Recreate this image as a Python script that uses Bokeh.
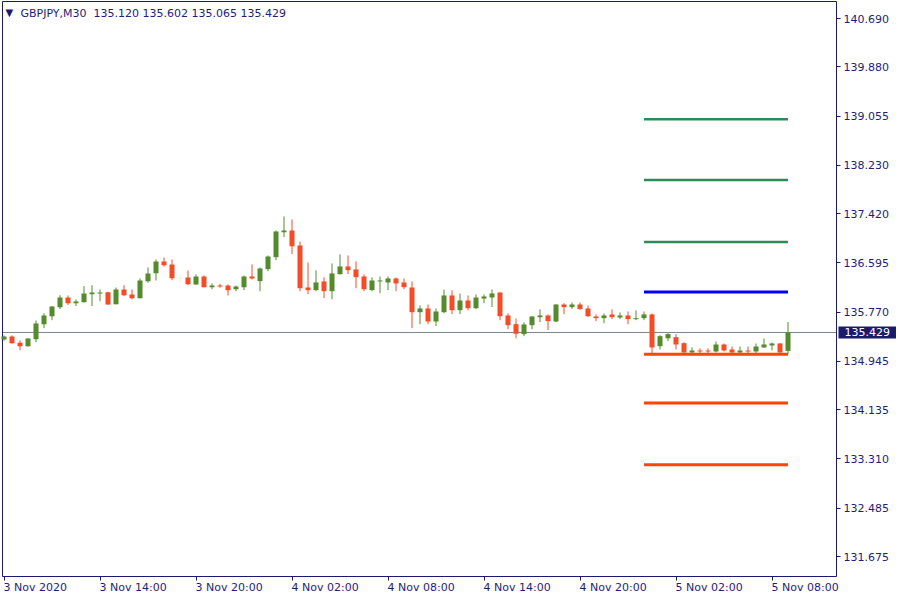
from bokeh.plotting import figure
from bokeh.models import (Range1d, FixedTicker, PrintfTickFormatter, Label, ColumnDataSource,
                          LinearAxis, BoxAnnotation)
from bokeh.embed import file_html
from bokeh.resources import INLINE

# ---------------- data (GBPJPY, M30, from 3 Nov 2020 08:00) ----------------
symbol = "GBPJPY,M30"

opens = [135.31, 135.36, 135.256, 135.199, 135.317, 135.568, 135.702, 135.853, 136.015, 135.920,
         135.937, 136.071, 136.080, 136.104, 135.903, 136.149, 136.066, 136.004, 136.289, 136.423,
         136.619, 136.568, 136.334, 136.351, 136.233, 136.367, 136.188, 136.216, 136.216, 136.154,
         136.188, 136.367, 136.289, 136.490, 136.691, 137.110, 137.138, 136.887, 136.183, 136.138,
         136.284, 136.121, 136.406, 136.535, 136.485, 136.367, 136.138, 136.284, 136.267, 136.334,
         136.267, 136.183, 135.769, 135.831, 135.613, 135.769, 136.049, 135.802, 135.965, 135.836,
         135.998, 136.015, 136.099, 135.714, 135.568, 135.401, 135.551, 135.685, 135.714, 135.613,
         135.898, 135.853, 135.898, 135.831, 135.697, 135.669, 135.731, 135.680, 135.714, 135.652,
         135.669, 135.731, 135.199, 135.332, 135.350, 135.250, 135.094, 135.127, 135.127, 135.110,
         135.228, 135.144, 135.094, 135.127, 135.110, 135.178, 135.211, 135.245, 135.120]
highs = [135.38, 135.38, 135.295, 135.33, 135.630, 135.752, 135.870, 136.054, 136.049, 135.982,
         136.205, 136.222, 136.149, 136.110, 136.183, 136.222, 136.149, 136.334, 136.518, 136.652,
         136.686, 136.652, 136.401, 136.468, 136.401, 136.384, 136.250, 136.245, 136.233, 136.216,
         136.384, 136.568, 136.518, 136.719, 137.138, 137.373, 137.322, 136.954, 136.602, 136.468,
         136.351, 136.585, 136.736, 136.719, 136.619, 136.401, 136.351, 136.367, 136.367, 136.351,
         136.334, 136.284, 135.881, 135.898, 135.831, 136.149, 136.133, 136.082, 136.049, 136.066,
         136.066, 136.149, 136.100, 135.747, 135.663, 135.597, 135.700, 135.815, 135.731, 135.900,
         135.920, 135.931, 135.931, 135.881, 135.731, 135.747, 135.815, 135.764, 135.781, 135.798,
         135.781, 135.747, 135.384, 135.418, 135.401, 135.266, 135.178, 135.161, 135.161, 135.278,
         135.245, 135.194, 135.194, 135.194, 135.245, 135.328, 135.261, 135.250, 135.602]
lows = [135.29, 135.24, 135.132, 135.19, 135.266, 135.501, 135.635, 135.823, 135.890, 135.873,
        135.930, 135.873, 135.953, 135.890, 135.900, 136.037, 135.982, 136.000, 136.262, 136.300,
        136.530, 136.305, 136.255, 136.222, 136.230, 136.185, 136.154, 136.178, 136.049, 136.121,
        136.138, 136.317, 136.121, 136.456, 136.640, 137.026, 136.741, 136.121, 136.071, 136.121,
        136.004, 135.987, 136.400, 136.406, 136.171, 136.121, 136.121, 136.088, 136.138, 136.121,
        136.154, 135.501, 135.568, 135.568, 135.538, 135.752, 135.736, 135.736, 135.802, 135.819,
        135.920, 135.856, 135.635, 135.484, 135.332, 135.367, 135.484, 135.601, 135.468, 135.601,
        135.736, 135.823, 135.806, 135.685, 135.619, 135.585, 135.652, 135.652, 135.568, 135.635,
        135.635, 135.077, 135.144, 135.283, 135.144, 135.077, 135.043, 135.077, 135.077, 135.094,
        135.110, 135.043, 135.077, 135.060, 135.077, 135.172, 135.127, 135.085, 135.065]
closes = [135.36, 135.25, 135.199, 135.328, 135.580, 135.714, 135.865, 136.015, 135.920, 135.948,
          136.082, 136.099, 136.100, 135.898, 136.149, 136.054, 136.004, 136.300, 136.418, 136.619,
          136.557, 136.339, 136.334, 136.239, 136.367, 136.188, 136.216, 136.200, 136.138, 136.200,
          136.367, 136.334, 136.501, 136.702, 137.121, 137.138, 136.875, 136.171, 136.138, 136.267,
          136.121, 136.418, 136.535, 136.473, 136.356, 136.154, 136.300, 136.300, 136.334, 136.250,
          136.188, 135.769, 135.831, 135.613, 135.781, 136.049, 135.802, 135.965, 135.836, 136.015,
          136.032, 136.082, 135.702, 135.551, 135.408, 135.563, 135.697, 135.714, 135.619, 135.898,
          135.853, 135.898, 135.823, 135.702, 135.669, 135.714, 135.685, 135.714, 135.652, 135.663,
          135.731, 135.178, 135.367, 135.401, 135.228, 135.094, 135.127, 135.110, 135.110, 135.228,
          135.127, 135.094, 135.127, 135.110, 135.194, 135.228, 135.245, 135.094, 135.429]

# time axis: bar index of each labelled time
tick_bars = [0, 12, 24, 36, 48, 60, 72, 84, 96]
tick_labels = ["3 Nov 2020", "3 Nov 14:00", "3 Nov 20:00", "4 Nov 02:00", "4 Nov 08:00",
               "4 Nov 14:00", "4 Nov 20:00", "5 Nov 02:00", "5 Nov 08:00"]

# price axis ticks
price_ticks = [131.675, 132.485, 133.310, 134.135, 134.945, 135.770,
               136.595, 137.420, 138.230, 139.055, 139.880, 140.690]

# horizontal levels (targets / entry / stops) drawn from bar 80 to bar 98
target_levels = [139.000, 137.982, 136.945]
entry_levels = [136.106]
stop_levels = [135.065, 134.249, 133.212]
level_from_bar = 80
level_to_bar = 98

# ---------------- styling / geometry ----------------
BULL = "#548b2c"
BEAR = "#f44c26"
DOJI = "#f6ebe6"
NAVY = "#191970"
TXT = "#1e1e78"
FONT = "DejaVu Sans"

W, H = 900, 600
PX_BAR = 8.0            # pixels per bar
PX_PRICE = 59.679       # pixels per price unit
BAR0_X = 3.5            # pixel centre of bar 0
REF_Y = 18.0            # pixel row of the top price tick
# chart box (pixels)
BOX_L, BOX_R, BOX_T, BOX_B = 2.0, 836.0, 1.0, 576.0

x_lo = -BAR0_X / PX_BAR
x_hi = (W - BAR0_X) / PX_BAR
y_hi = price_ticks[-1] + REF_Y / PX_PRICE
y_lo = y_hi - H / PX_PRICE

def px_to_bar(px):
    return x_lo + px / PX_BAR

def py_to_price(py):
    return y_hi - py / PX_PRICE

box_left, box_right = px_to_bar(BOX_L), px_to_bar(BOX_R)
box_top, box_bottom = py_to_price(BOX_T), py_to_price(BOX_B)

p = figure(width=W, height=H, output_backend="svg", toolbar_location=None, tools="",
           x_range=Range1d(x_lo, x_hi), y_range=Range1d(y_lo, y_hi),
           x_axis_location=None, y_axis_location=None, title=None,
           min_border_left=0, min_border_top=0, min_border_right=0, min_border_bottom=0)
p.background_fill_color = "white"
p.border_fill_color = "white"
p.outline_line_color = None
p.xgrid.visible = False
p.ygrid.visible = False

# right price axis, pinned to the chart box edge
ya = LinearAxis(fixed_location=box_right)
ya.ticker = FixedTicker(ticks=price_ticks)
ya.formatter = PrintfTickFormatter(format="%.3f")
ya.axis_line_color = None
ya.major_tick_line_color = NAVY
ya.major_tick_out = 4
ya.major_tick_in = 0
ya.minor_tick_line_color = None
ya.major_label_standoff = 3
ya.major_label_text_font = FONT
ya.major_label_text_font_size = "11px"
ya.major_label_text_color = TXT
p.add_layout(ya, "right")

# bottom time axis (tick marks), pinned to the chart box bottom
xa = LinearAxis(fixed_location=box_bottom)
xa.ticker = FixedTicker(ticks=tick_bars)
xa.axis_line_color = None
xa.major_tick_line_color = NAVY
xa.major_tick_out = 4
xa.major_tick_in = 0
xa.minor_tick_line_color = None
xa.major_label_text_color = None
xa.major_label_text_font_size = "11px"
p.add_layout(xa, "below")

# time labels, left aligned at their tick as in MT4
for b, t in zip(tick_bars, tick_labels):
    p.add_layout(Label(x=(b - x_lo) * PX_BAR - 0.5, y=H - 587, x_units="screen", y_units="screen",
                       text=t, text_align="left", text_baseline="middle",
                       text_font=FONT, text_font_size="11px", text_color=TXT))

# chart box border
p.add_layout(BoxAnnotation(left=box_left, right=box_right, top=box_top, bottom=box_bottom,
                           fill_color=None, line_color=NAVY, line_alpha=1.0, line_width=1,
                           level="underlay"))

# current price line (behind candles)
p.segment(x0=[box_left], x1=[box_right], y0=[closes[-1]], y1=[closes[-1]],
          line_color="#7a8593", line_width=1, level="underlay")

# candles
n = len(opens)
idx = list(range(n))
cols = [BULL if c > o else (BEAR if c < o else DOJI) for o, c in zip(opens, closes)]
min_h = 1.0 / PX_PRICE
bottoms = [min(o, c) for o, c in zip(opens, closes)]
tops = [max(max(o, c), min(o, c) + min_h) for o, c in zip(opens, closes)]
src = ColumnDataSource(dict(x=idx, o=opens, h=highs, l=lows, c=closes,
                            bot=bottoms, top=tops, col=cols))
p.segment(x0="x", x1="x", y0="l", y1="h", line_color="col", line_width=1, source=src)
p.vbar(x="x", width=0.63, bottom="bot", top="top", fill_color="col", line_color=None, source=src)

# level lines
lv = target_levels + entry_levels + stop_levels
lcols = ["#2e8b57"] * len(target_levels) + ["#0000ff"] * len(entry_levels) + ["#ff4500"] * len(stop_levels)
lw = [2.5] * len(target_levels) + [3] * len(entry_levels) + [3] * len(stop_levels)
p.segment(x0=[level_from_bar] * len(lv), x1=[level_to_bar] * len(lv), y0=lv, y1=lv,
          line_color=lcols, line_width=lw)

# current price tag on the price axis
p.add_layout(Label(x=838, y=(closes[-1] - y_lo) * PX_PRICE, x_units="screen", y_units="screen",
                   text="%.3f" % closes[-1], text_align="left", text_baseline="middle",
                   text_font=FONT, text_font_size="11px", text_color="white",
                   background_fill_color="#1b1b6b", padding=(6, 2)))

# header: symbol and OHLC of the last bar
p.add_layout(Label(x=5, y=H - 11.5, x_units="screen", y_units="screen", text="\u25bc",
                   text_align="left", text_baseline="middle",
                   text_font=FONT, text_font_size="10px", text_color=NAVY))
hdr = "%s\u00a0\u00a0%.3f %.3f %.3f %.3f" % (symbol, opens[-1], highs[-1], lows[-1], closes[-1])
p.add_layout(Label(x=20, y=H - 12.5, x_units="screen", y_units="screen", text=hdr,
                   text_align="left", text_baseline="middle",
                   text_font=FONT, text_font_size="11px", text_color=TXT))

open("out.html", "w").write(file_html(p, INLINE))
